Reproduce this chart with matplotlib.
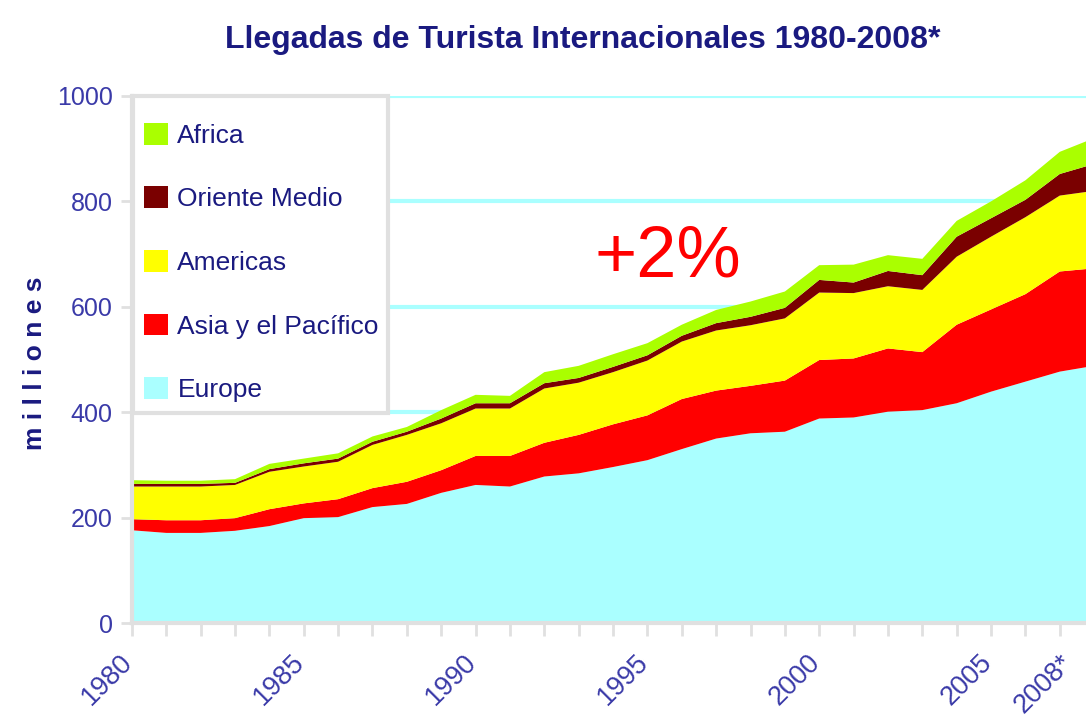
import numpy as np
import matplotlib
matplotlib.use('Agg')
from matplotlib import pyplot as plt
from matplotlib import font_manager
from matplotlib.patches import Patch, Rectangle

# fuente estrecha si existe
nombres = {f.name for f in font_manager.fontManager.ttflist}
fuente = 'Liberation Sans Narrow' if 'Liberation Sans Narrow' in nombres else 'Liberation Sans'
plt.rcParams['font.family'] = [fuente, 'DejaVu Sans']

# datos (millones de llegadas)
anios = list(range(1980, 2009))
europe = [176, 171, 171, 175, 184, 199, 201, 220, 226, 247, 262, 259, 278, 284, 296,
          309, 330, 350, 360, 363, 388, 390, 401, 404, 417, 439, 458, 477, 488]
asia = [21, 24, 24, 24, 32, 28, 34, 36, 42, 43, 55, 58, 64, 73, 81,
        85, 95, 91, 90, 97, 111, 112, 120, 110, 149, 156, 166, 190, 185]
americas = [62, 64, 64, 63, 71, 70, 71, 82, 89, 89, 90, 90, 103, 99, 99,
            104, 109, 114, 115, 118, 128, 124, 118, 118, 129, 138, 146, 144, 147]
oriente = [5, 5, 5, 4, 5, 6, 6, 6, 6, 9, 10, 10, 10, 9, 10,
           10, 11, 14, 16, 20, 24, 20, 29, 28, 38, 35, 33, 41, 51]
africa = [7, 6, 6, 7, 10, 9, 10, 10, 9, 16, 16, 14, 21, 23, 24,
          23, 21, 25, 29, 31, 28, 34, 30, 31, 30, 32, 37, 42, 49]

series = [europe, asia, americas, oriente, africa]
nombres_series = ['Europe', 'Asia y el Pacífico', 'Americas', 'Oriente Medio', 'Africa']
colores = ['#aaffff', '#ff0000', '#ffff00', '#7a0000', '#aaff00']

anios_etiqueta = [1980, 1985, 1990, 1995, 2000, 2005, 2008]
textos_etiqueta = ['1980', '1985', '1990', '1995', '2000', '2005', '2008*']

azul = '#1a1a80'
azul_claro = '#3a3aa8'
gris = '#e0e0e0'

fig = plt.figure(figsize=(10.86, 7.27), dpi=100)
ax = fig.add_axes([0.1215, 0.143, 0.886, 0.725])

ax.stackplot(anios, *series, colors=colores, linewidth=0, zorder=2)

ax.set_xlim(1980, 2008)
ax.set_ylim(0, 1000)
ax.set_yticks(range(0, 1001, 200))
ax.yaxis.grid(True, color='#aaffff', linewidth=3, zorder=0)
ax.set_axisbelow(True)

# marcas cada anio, etiquetas a mano
ax.set_xticks(anios)
ax.set_xticklabels([])
ax.tick_params(axis='x', length=9, width=2, color=gris)
ax.tick_params(axis='y', length=8, width=2, color=gris, labelsize=18,
               labelcolor=azul_claro, pad=6)

for a, txt in zip(anios_etiqueta, textos_etiqueta):
    dx = -25 if a == 2008 else -9
    ax.annotate(txt, xy=(a, 0), xycoords=('data', 'axes fraction'),
                xytext=(dx, -19), textcoords='offset points', rotation=45,
                ha='right', va='top', rotation_mode='anchor', fontsize=19.5,
                color=azul_claro, annotation_clip=False)

for lado in ['top', 'right']:
    ax.spines[lado].set_visible(False)
for lado in ['left', 'bottom']:
    ax.spines[lado].set_color(gris)
    ax.spines[lado].set_linewidth(3)

# marco de la leyenda
marco = Rectangle((0.001, 0.3985), 0.265, 0.6015, transform=ax.transAxes,
                  facecolor='white', edgecolor=gris, linewidth=3, zorder=4,
                  clip_on=False)
ax.add_patch(marco)

# leyenda en orden inverso
manijas = [Patch(facecolor=c, edgecolor='none') for c in colores][::-1]
ley = ax.legend(manijas, nombres_series[::-1], loc='upper left',
                bbox_to_anchor=(0.013, 0.949), fontsize=19, handlelength=0.9,
                handleheight=0.9, handletextpad=0.35, labelspacing=1.46,
                borderpad=0, frameon=False, borderaxespad=0)
for t in ley.get_texts():
    t.set_color(azul)
ley.set_zorder(5)

fig.text(0.537, 0.945, 'Llegadas de Turista Internacionales 1980-2008*', ha='center',
         va='center', fontsize=23, fontweight='bold', color=azul)
fig.text(0.615, 0.645, '+2%', ha='center', va='center', fontsize=52, color='#ff0000')
fig.text(0.032, 0.50, 'm i l l i o n e s', rotation=90, ha='center', va='center',
         fontsize=19, fontweight='bold', color=azul)

plt.savefig('out.png', dpi=100)
